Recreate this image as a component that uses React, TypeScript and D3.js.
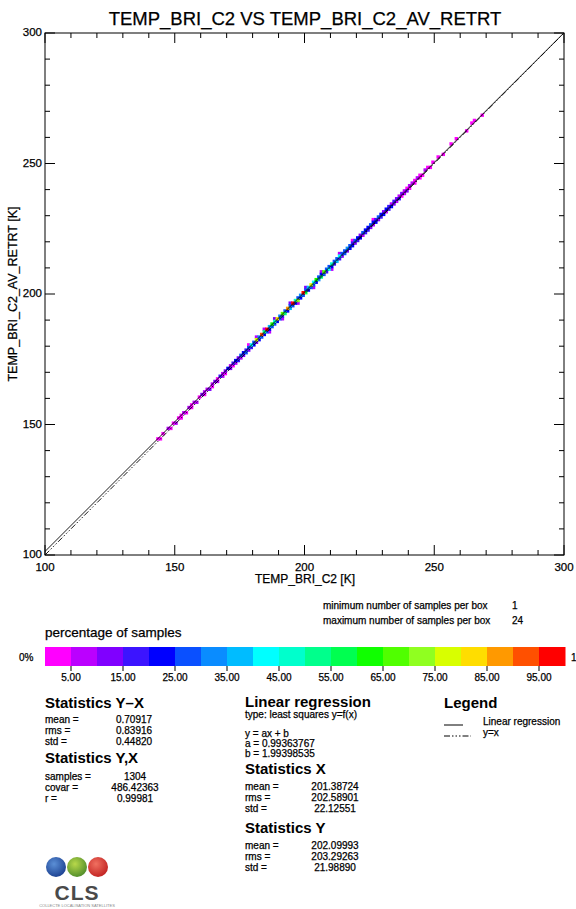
import React from "react";
import * as d3 from "d3";

const W = 576;
const H = 909;

const title = "TEMP_BRI_C2 VS TEMP_BRI_C2_AV_RETRT";
const xLabel = "TEMP_BRI_C2 [K]";
const yLabel = "TEMP_BRI_C2_AV_RETRT [K]";
const axisDomain = [100, 300];
const majorTicks = [100, 150, 200, 250, 300];
const minorTicks = [110, 120, 130, 140, 160, 170, 180, 190, 210, 220, 230, 240, 260, 270, 280, 290];

// regression y = a x + b
const regA = 0.99363767;
const regB = 1.99398535;
const maxSamples = 24;

// boxes (1 K bins): [x bin, y bin, number of samples]
const boxes: [number, number, number][] = [
  [143,144,1],[144,144,1],[145,146,1],[147,148,2],[148,148,1],[149,150,1],[150,150,2],[151,152,1],
  [152,153,1],[152,152,1],[153,154,2],[154,154,1],[155,156,2],[156,156,1],[156,157,1],[157,158,2],
  [158,158,2],[159,160,1],[160,161,3],[161,161,1],[161,162,2],[162,163,2],[163,163,3],[164,165,2],
  [164,164,1],[165,166,3],[166,166,2],[166,167,1],[167,168,4],[168,168,2],[168,169,2],[169,170,3],
  [169,169,1],[170,171,5],[171,171,3],[171,172,2],[172,173,4],[172,172,1],[173,174,5],[173,173,2],
  [174,174,4],[174,175,3],[175,176,6],[175,175,2],[176,177,5],[176,176,3],[177,177,7],[177,178,4],
  [178,179,6],[178,178,3],[178,180,1],[179,180,10],[179,179,4],[180,180,5],[180,181,7],[181,182,18],
  [181,181,3],[181,183,2],[182,183,8],[182,182,5],[183,184,22],[183,183,6],[184,184,5],[184,185,12],
  [184,186,2],[185,186,24],[185,185,7],[186,187,9],[186,186,5],[186,185,2],[187,188,15],[187,187,6],
  [188,188,7],[188,189,11],[188,190,3],[189,190,20],[189,189,5],[190,191,8],[190,190,6],[191,192,16],
  [191,191,4],[191,190,2],[192,193,6],[192,192,13],[193,194,21],[193,193,5],[194,194,9],[194,195,6],
  [194,196,3],[195,196,23],[195,195,7],[196,197,11],[196,196,5],[197,197,17],[197,198,6],[197,196,2],
  [198,199,8],[198,198,5],[199,200,24],[199,199,7],[200,200,14],[200,201,6],[200,202,3],[201,202,9],
  [201,201,5],[202,203,19],[202,202,6],[203,203,7],[203,204,10],[203,202,2],[204,205,15],[204,204,5],
  [205,206,6],[205,205,8],[206,206,12],[206,207,5],[206,208,2],[207,208,16],[207,207,6],[208,209,7],
  [208,208,4],[209,209,10],[209,210,6],[210,211,11],[210,210,5],[210,209,2],[211,212,6],[211,211,4],
  [212,212,9],[212,213,6],[213,214,10],[213,213,4],[213,215,2],[214,215,6],[214,214,3],[215,215,6],
  [215,216,7],[216,217,8],[216,216,3],[217,218,6],[217,217,5],[218,218,5],[218,219,4],[218,220,1],
  [219,220,6],[219,219,3],[220,221,5],[220,220,4],[221,221,5],[221,222,3],[222,223,6],[222,222,2],
  [223,224,5],[223,223,4],[224,224,4],[224,225,5],[225,226,6],[225,225,3],[226,227,5],[226,226,2],
  [226,228,1],[227,227,5],[227,228,4],[228,229,6],[228,228,3],[229,230,5],[229,229,4],[230,230,5],
  [230,231,3],[231,232,5],[231,231,2],[232,233,4],[232,232,4],[233,233,5],[233,234,2],[234,235,4],
  [234,234,3],[235,236,3],[235,235,2],[236,236,4],[236,237,2],[237,238,3],[237,237,1],[238,239,2],
  [238,238,2],[239,239,3],[239,240,1],[240,241,2],[240,240,1],[241,242,2],[242,242,1],[242,243,1],
  [243,244,2],[244,245,1],[244,244,1],[245,245,1],[246,247,2],[247,248,1],[248,248,1],[249,250,1],
  [251,252,1],[253,253,1],[256,257,1],[258,259,1],[262,262,1],[264,265,1],[265,266,1],[268,268,1],
];

const paletteColors = [
  "#ff00ff", "#bb00ff", "#8000ff", "#3c14ff", "#0000ff",
  "#0a50ff", "#0a8cff", "#00bcff", "#00ffff", "#00ffcc",
  "#00ff8c", "#00ff50", "#10ff00", "#50ff00", "#90ff20",
  "#d8ff00", "#ffdd00", "#ff9900", "#ff5000", "#ff0000",
];
const colorbarTicks = [5, 15, 25, 35, 45, 55, 65, 75, 85, 95];

const statsYX = [["mean =", "0.70917"], ["rms =", "0.83916"], ["std =", "0.44820"]];
const statsYcX = [["samples =", "1304"], ["covar =", "486.42363"], ["r =", "0.99981"]];
const statsX = [["mean =", "201.38724"], ["rms =", "202.58901"], ["std =", "22.12551"]];
const statsY = [["mean =", "202.09993"], ["rms =", "203.29263"], ["std =", "21.98890"]];

const FONT = "'Liberation Sans', Arial, Helvetica, sans-serif";

export default function App() {
  const L = 45, R = 564, T = 33, B = 555;
  const x = d3.scaleLinear().domain(axisDomain).range([L, R]);
  const y = d3.scaleLinear().domain(axisDomain).range([B, T]);
  const cb = d3.scaleLinear().domain([0, 100]).range([45, 565]);
  const colorOf = (n: number) => {
    const p = (n / maxSamples) * 100;
    const i = Math.min(19, Math.floor(p / 5));
    return paletteColors[i];
  };
  const line = d3.line<[number, number]>().x(d => x(d[0])).y(d => y(d[1]));
  const regPts: [number, number][] = [[100, regA * 100 + regB], [(300 - regB) / regA, 300]];
  const idPts: [number, number][] = [[100, 100], [300, 300]];
  const boxSize = 3.4;

  const txt = (s: string, xx: number, yy: number, size: number, opts: any = {}) => (
    <text x={xx} y={yy} fontSize={size} fontFamily={FONT} dominantBaseline="central"
      stroke={opts.fontWeight ? "none" : "#000"} strokeWidth={0.25} {...opts}>{s}</text>
  );

  const statBlock = (rows: string[][], lx: number, vx: number, y0: number) =>
    rows.map((r, i) => (
      <g key={r[0]}>
        {txt(r[0], lx, y0 + i * 11, 10)}
        {txt(r[1], vx, y0 + i * 11, 10, { textAnchor: "middle" })}
      </g>
    ));

  return (
    <svg width={W} height={H} style={{ position: "absolute", left: 0, top: 0, background: "#fff" }}>
      <rect width={W} height={H} fill="#fff" />
      {txt(title, 305, 18, 18.5, { textAnchor: "middle" })}

      <defs>
        <clipPath id="plotclip"><rect x={L} y={T} width={R - L} height={B - T} /></clipPath>
      </defs>

      {/* boxes, sorted so that the fuller boxes are on top */}
      <g>
        {boxes.slice().sort((a, b) => a[2] - b[2]).map((b, i) => {
          const cx = x(b[0] + 0.5), cy = y(b[1] + 0.5);
          return <rect key={i} x={cx - boxSize / 2} y={cy - boxSize / 2} width={boxSize} height={boxSize} fill={colorOf(b[2])} />;
        })}
      </g>

      <g clipPath="url(#plotclip)" fill="none" stroke="#000">
        <path d={line(regPts) || ""} strokeWidth={0.9} />
        <path d={line(idPts) || ""} strokeWidth={0.9} strokeDasharray="6,2,1.5,2,1.5,2,1.5,2" />
      </g>

      {/* axes frame */}
      <rect x={L} y={T} width={R - L} height={B - T} fill="none" stroke="#000" strokeWidth={1} />
      <g stroke="#000" strokeWidth={1}>
        {majorTicks.map(t => (
          <g key={"M" + t}>
            <line x1={x(t)} x2={x(t)} y1={B} y2={B - 10} />
            <line x1={x(t)} x2={x(t)} y1={T} y2={T + 10} />
            <line x1={L} x2={L + 10} y1={y(t)} y2={y(t)} />
            <line x1={R} x2={R - 10} y1={y(t)} y2={y(t)} />
          </g>
        ))}
        {minorTicks.map(t => (
          <g key={"m" + t}>
            <line x1={x(t)} x2={x(t)} y1={B} y2={B - 5} />
            <line x1={x(t)} x2={x(t)} y1={T} y2={T + 5} />
            <line x1={L} x2={L + 5} y1={y(t)} y2={y(t)} />
            <line x1={R} x2={R - 5} y1={y(t)} y2={y(t)} />
          </g>
        ))}
      </g>
      {majorTicks.map(t => (
        <g key={"l" + t}>
          {txt(String(t), x(t), 567, 11.5, { textAnchor: "middle" })}
          {txt(String(t), 42, y(t) - 1, 11.5, { textAnchor: "end" })}
        </g>
      ))}
      {txt(xLabel, 305, 579, 12, { textAnchor: "middle" })}
      <text x={0} y={0} fontSize={12.5} fontFamily={FONT} textAnchor="middle" dominantBaseline="central"
        stroke="#000" strokeWidth={0.25}
        transform={`translate(13,${(T + B) / 2}) rotate(-90)`}>{yLabel}</text>

      {/* samples per box */}
      {txt("minimum number of samples per box", 323, 605, 10)}
      {txt("1", 512, 605, 10)}
      {txt("maximum number of samples per box", 323, 620, 10)}
      {txt(String(maxSamples), 512, 620, 10)}

      {/* colorbar */}
      {txt("percentage of samples", 45, 632, 13.5)}
      {txt("0%", 19, 657, 10)}
      {txt("1", 571, 657, 10)}
      {paletteColors.map((c, i) => (
        <rect key={c} x={cb(i * 5)} y={647} width={cb((i + 1) * 5) - cb(i * 5) + 0.5} height={19} fill={c} />
      ))}
      {colorbarTicks.map(t => (
        <g key={"cb" + t}>
          <line x1={cb(t)} x2={cb(t)} y1={666} y2={671} stroke="#000" />
          {txt(t.toFixed(2), cb(t), 677, 10, { textAnchor: "middle" })}
        </g>
      ))}

      {/* statistics */}
      {txt("Statistics Y\u2013X", 45, 702, 15, { fontWeight: "bold" })}
      {statBlock(statsYX, 45, 134, 719)}
      {txt("Statistics Y,X", 45, 757, 15, { fontWeight: "bold" })}
      {statBlock(statsYcX, 45, 135, 776)}

      {txt("Linear regression", 245, 701, 15, { fontWeight: "bold" })}
      {txt("type: least squares y=f(x)", 245, 714, 10)}
      {txt("y = ax + b", 245, 733, 10)}
      {txt("a =  " + regA.toFixed(8), 245, 743, 10)}
      {txt("b =  " + regB.toFixed(8), 245, 753, 10)}
      {txt("Statistics X", 245, 768, 15, { fontWeight: "bold" })}
      {statBlock(statsX, 245, 335, 786)}
      {txt("Statistics Y", 245, 827, 15, { fontWeight: "bold" })}
      {statBlock(statsY, 245, 335, 845)}

      {txt("Legend", 444, 702, 15, { fontWeight: "bold" })}
      <line x1={444} x2={463} y1={725} y2={725} stroke="#000" />
      <line x1={444} x2={471} y1={736} y2={736} stroke="#000" strokeDasharray="6,2,1.5,2,1.5,2,1.5,2" />
      {txt("Linear regression", 483, 721, 10)}
      {txt("y=x", 483, 732, 10)}

      {/* logo */}
      <defs>
        <radialGradient id="gb" cx="40%" cy="35%" r="70%"><stop offset="0" stopColor="#5b8fd6" /><stop offset="1" stopColor="#1a3f8f" /></radialGradient>
        <radialGradient id="gg" cx="40%" cy="35%" r="70%"><stop offset="0" stopColor="#b8d84a" /><stop offset="1" stopColor="#4d8a2a" /></radialGradient>
        <radialGradient id="gr" cx="40%" cy="35%" r="70%"><stop offset="0" stopColor="#f07060" /><stop offset="1" stopColor="#c02020" /></radialGradient>
      </defs>
      <circle cx={56} cy={867} r={10} fill="url(#gb)" />
      <circle cx={77} cy={867} r={10} fill="url(#gg)" />
      <circle cx={98} cy={867} r={10} fill="url(#gr)" />
      <text x={77} y={892} fontSize={21} fontWeight="bold" fontFamily={FONT} fill="#4a4a4a" textAnchor="middle" dominantBaseline="central" letterSpacing={1}>CLS</text>
      <text x={77} y={905} fontSize={4} fontFamily={FONT} fill="#888" textAnchor="middle" dominantBaseline="central">COLLECTE LOCALISATION SATELLITES</text>
    </svg>
  );
}
